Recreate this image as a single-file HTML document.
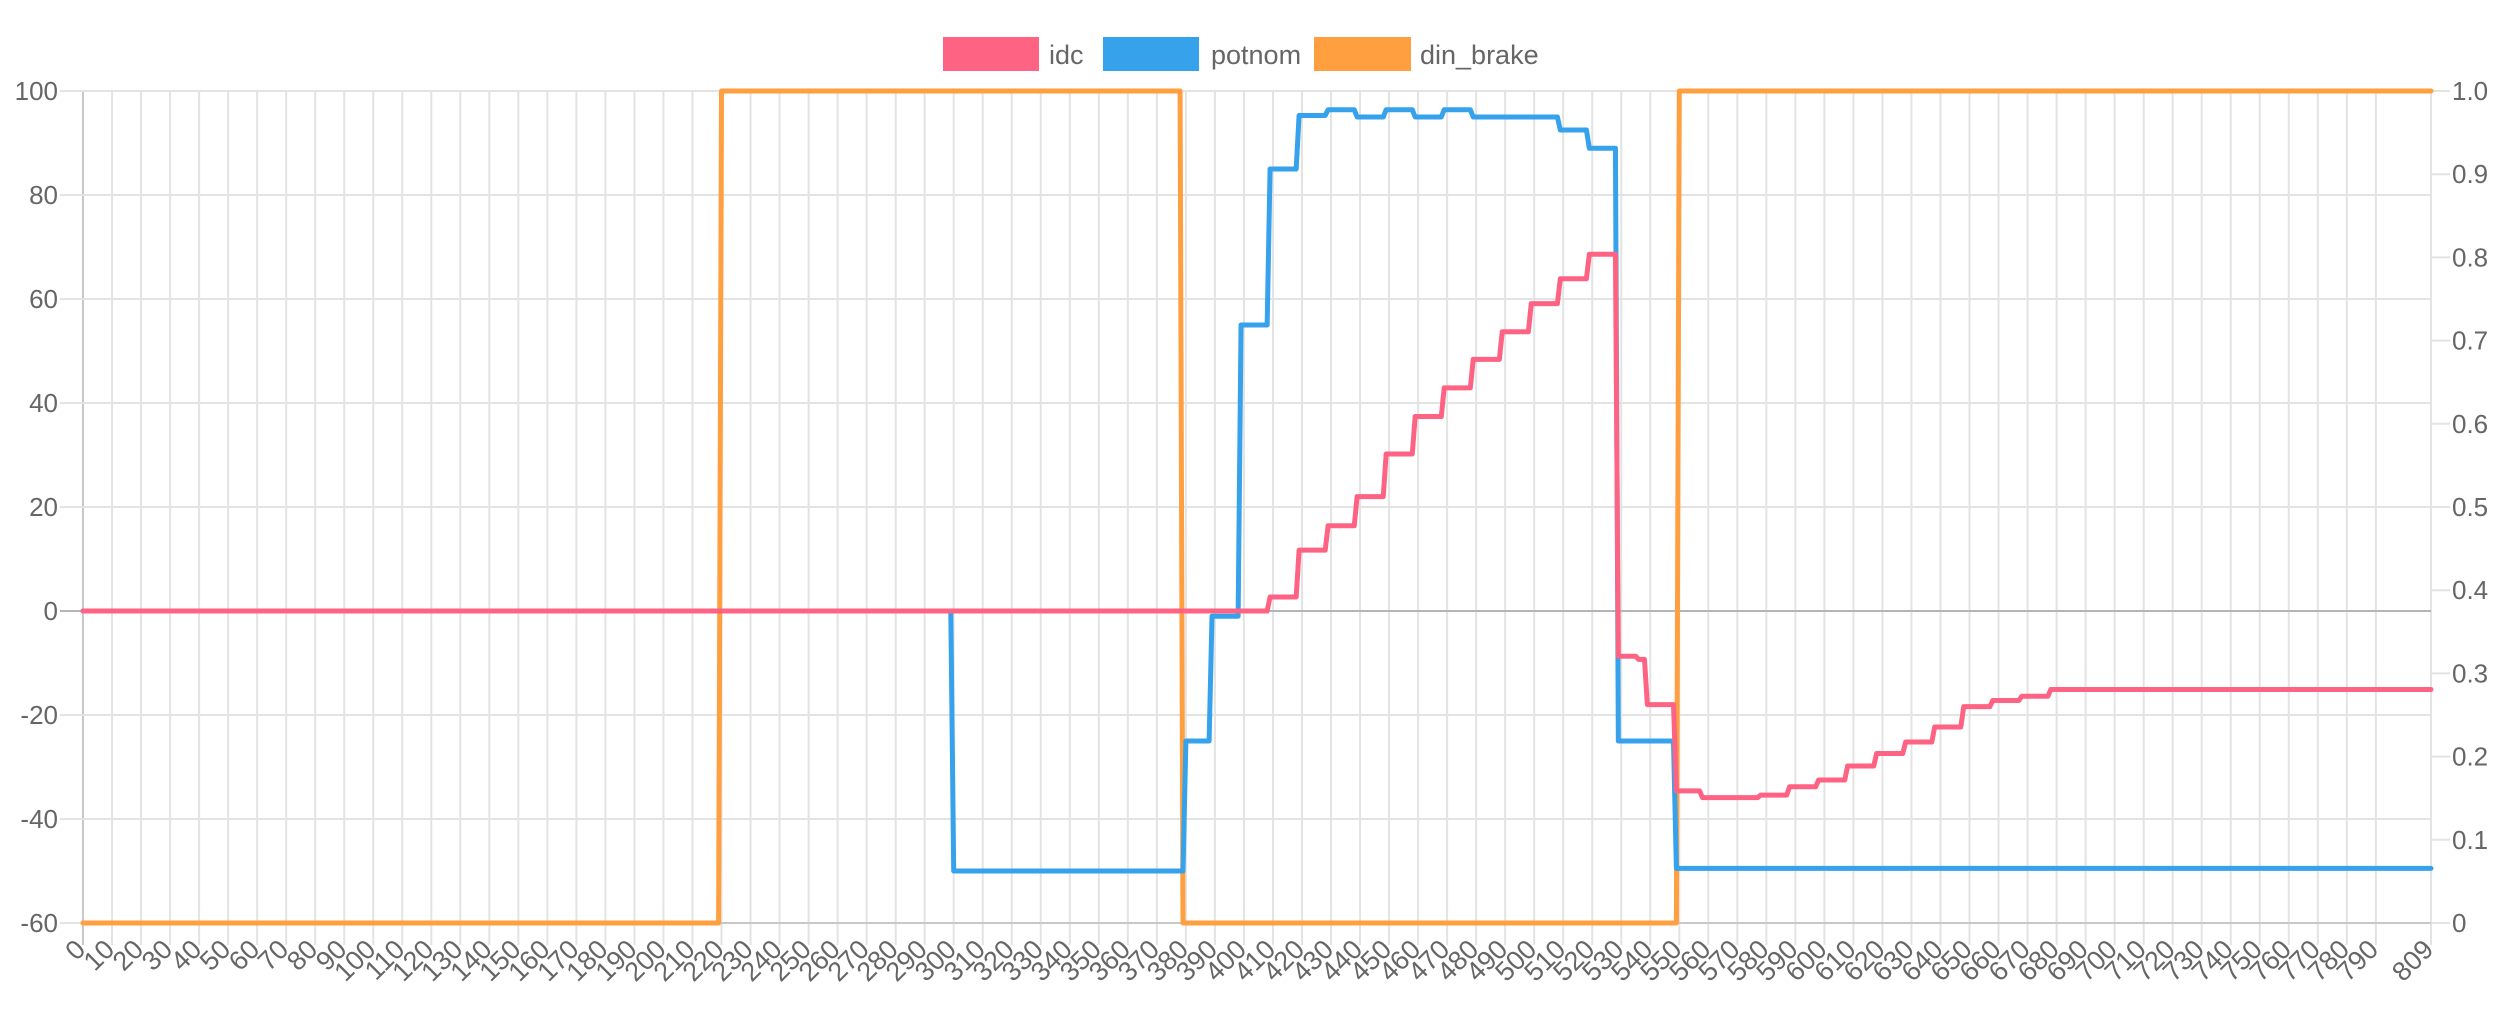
<!DOCTYPE html>
<html><head><meta charset="utf-8"><style>
html,body{margin:0;padding:0;background:#fff;}
svg{display:block;font-family:"Liberation Sans",Arial,sans-serif;}
</style></head><body>
<svg id="chart" width="2514" height="1010" viewBox="0 0 2514 1010" xmlns="http://www.w3.org/2000/svg">
<g>
<g><rect x="943" y="37" width="96" height="34" fill="#ff6384"/><text x="1049" y="64" font-size="27" fill="#666">idc</text></g>
<g><rect x="1103" y="37" width="96" height="34" fill="#36a2eb"/><text x="1211" y="64" font-size="27" fill="#666">potnom</text></g>
<g><rect x="1314" y="37" width="97" height="34" fill="#ff9f40"/><text x="1420" y="64" font-size="27" fill="#666">din_brake</text></g>
</g>
<g id="grid"></g>
<g id="axes"></g>
<g id="series"></g>
</svg>
<script>
// data: step runs (start index, value)
const idcStart = [0,409,419,429,439,449,459,469,479,489,499,509,519,529,536,539,549,558,578,588,598,608,618,628,638,648,658,668,678];
const idcValue = [0,2.7,11.7,16.4,22,30.2,37.4,42.9,48.4,53.7,59.1,63.9,68.6,-8.7,-9.3,-18,-34.6,-35.9,-35.4,-33.8,-32.5,-29.8,-27.4,-25.2,-22.3,-18.4,-17.2,-16.4,-15.1];
const potnomStart = [0,300,380,389,399,409,419,429,439,449,459,469,479,509,519,529,549];
const potnomValue = [0,-50,-25,-1,55,85,95.3,96.4,95,96.4,95,96.4,95,92.5,89,-25,-49.5];
const brakeStart = [0,220,379,550];
const brakeValue = [0,1,0,1];
const lastIndex = 809;
const leftTicks = [100,80,60,40,20,0,-20,-40,-60];
const rightTicks = [0,0.1,0.2,0.3,0.4,0.5,0.6,0.7,0.8,0.9,1.0];
const rightTickLabels = ["0","0.1","0.2","0.3","0.4","0.5","0.6","0.7","0.8","0.9","1.0"];

const NS="http://www.w3.org/2000/svg";
const X0=83,X1=2431,YT=91,YB=923;
const xScale=i=>X0+(X1-X0)*i/lastIndex;
const yLeft=v=>YB-(YB-YT)*(v+60)/160;
const yRight=v=>YB-(YB-YT)*v;
function mk(tag,attrs,parent){const e=document.createElementNS(NS,tag);for(const k in attrs)e.setAttribute(k,attrs[k]);parent.appendChild(e);return e;}
const grid=document.getElementById('grid'),axes=document.getElementById('axes'),series=document.getElementById('series');

const xTicks=[];for(let i=0;i<=790;i+=10)xTicks.push(i);xTicks.push(lastIndex);
xTicks.forEach(t=>{const x=xScale(t);
 const l=mk('line',{x1:x,x2:x,y1:YT,y2:945,stroke:t===0?'#c8c8c8':'#e3e3e3','stroke-width':2},grid);
 
 
 const ax=x+4, ay=951;
 const tx=mk('text',{x:ax,y:ay,'font-size':27,fill:'#666','text-anchor':'end',transform:`rotate(-45 ${ax} ${ay})`},axes);
 tx.textContent=String(t);
 
 
});
{const l=mk('line',{x1:X1,x2:X1,y1:YT,y2:YB,stroke:'#e3e3e3','stroke-width':2},grid);
 
 }
leftTicks.forEach(v=>{const y=yLeft(v);
 const l=mk('line',{x1:60,x2:X1,y1:y,y2:y,stroke:v===0?'#b5b5b5':'#e3e3e3','stroke-width':2},grid);
 
 
 const tx=mk('text',{x:58,y:y+9,'font-size':26,fill:'#666','text-anchor':'end'},axes);
 tx.textContent=String(v);
 
 
});
rightTicks.forEach((v,k)=>{const y=yRight(v);
 const l=mk('line',{x1:X1,x2:2450,y1:y,y2:y,stroke:'#e3e3e3','stroke-width':2},grid);
 
 
 const tx=mk('text',{x:2452,y:y+9,'font-size':26,fill:'#666','text-anchor':'start'},axes);
 tx.textContent=rightTickLabels[k];
 
 
});
{const l=mk('line',{x1:X0,x2:X1,y1:YB,y2:YB,stroke:'#c8c8c8','stroke-width':2},grid);
 
 }

function stepPoints(starts,vals,yf){const pts=[];
 for(let k=0;k<starts.length;k++){const s=starts[k];const e=k+1<starts.length?starts[k+1]-1:lastIndex;
  pts.push(xScale(s)+','+yf(vals[k]));if(e!==s)pts.push(xScale(e)+','+yf(vals[k]));}
 return pts.join(' ');}
function drawSeries(starts,vals,yf,color,name){
 const p=mk('polyline',{points:stepPoints(starts,vals,yf),fill:'none',stroke:color,'stroke-width':5,'stroke-linejoin':'round','stroke-linecap':'round'},series);
 
 
}
drawSeries(brakeStart,brakeValue,yRight,'#ff9f40','din-brake-line');
drawSeries(potnomStart,potnomValue,yLeft,'#36a2eb','potnom-line');
drawSeries(idcStart,idcValue,yLeft,'#ff6384','idc-line');
</script>
</body></html>
